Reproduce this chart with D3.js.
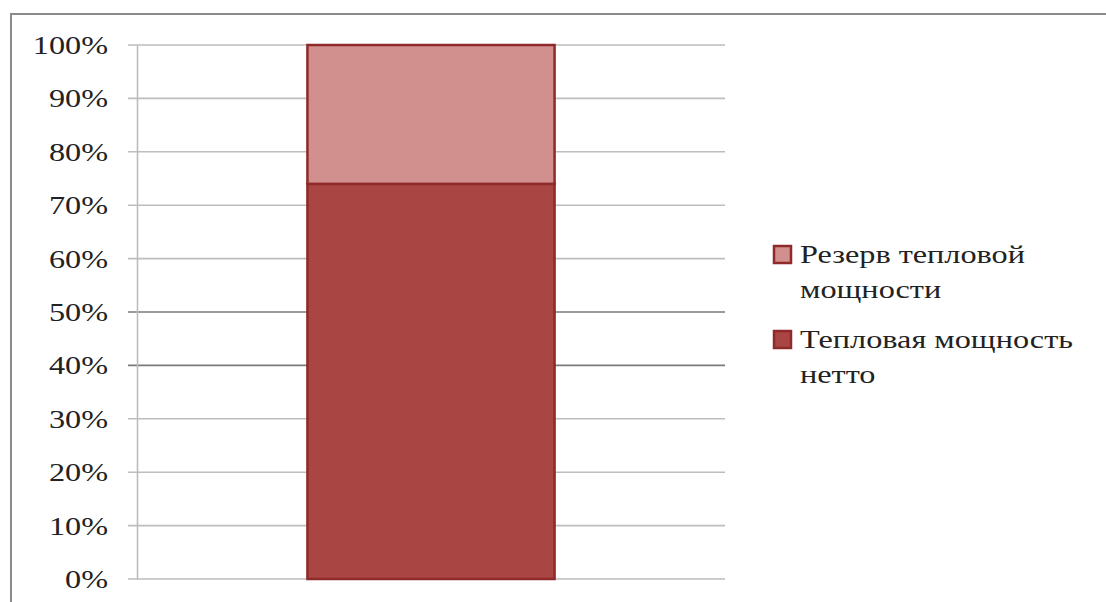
<!DOCTYPE html>
<html><head><meta charset="utf-8">
<script src="https://cdn.jsdelivr.net/npm/d3@7"></script>
<style>body{margin:0;background:#fff}svg{display:block}
svg text{font-family:"Liberation Serif","Times New Roman","DejaVu Serif",serif !important;}
</style>
</head><body>
<svg id="c" width="1106" height="602"></svg>
<script>
const categories = ["1"];
const seriesNames = ["Тепловая мощность нетто", "Резерв тепловой мощности"];
const netto = [74];
const reserve = [26];
const tickValues = [0,10,20,30,40,50,60,70,80,90,100];
const tickLabels = ["0%","10%","20%","30%","40%","50%","60%","70%","80%","90%","100%"];
const legendLines = [["Резерв тепловой","мощности"],["Тепловая мощность","нетто"]];

const svg = d3.select("#c");
const colors = {netto:"#a94543", reserve:"#d18f8e", stroke:"#8e2b2a"};
const stretch = 1.29;

// outer frame
svg.append("rect").attr("x",11).attr("y",14).attr("width",1120).attr("height",620)
  .attr("fill","none").attr("stroke","#8a8a8a").attr("stroke-width",2);

const x0 = 137, x1 = 725, yTop = 45, yBot = 579;
const x = d3.scaleBand().domain(categories).range([x0,x1]).paddingInner(0).paddingOuter(0.68);
const y = d3.scaleLinear().domain([0,100]).range([yBot,yTop]);

// gridlines
svg.append("g").selectAll("line").data(tickValues).join("line")
  .attr("x1",128).attr("x2",x1).attr("y1",d=>y(d)).attr("y2",d=>y(d))
  .attr("stroke",d=>(d===40||d===50)?"#7a7a7a":"#bdbdbd").attr("stroke-width",1.6);

// y axis
const yAxis = d3.axisLeft(y).tickValues(tickValues).tickFormat((d,i)=>tickLabels[i]).tickSize(0).tickPadding(29);
const ga = svg.append("g").attr("transform",`translate(${x0},0)`).call(yAxis);
ga.attr("font-family",null);
ga.select(".domain").attr("stroke","#bdbdbd").attr("stroke-width",1.6);
ga.selectAll("text").attr("font-size",25).attr("fill","#222")
  .attr("dy","0.34em")
  .each(function(){ const L=this.getComputedTextLength(); d3.select(this).attr("textLength",L*stretch).attr("lengthAdjust","spacingAndGlyphs"); });

// stacked bars
const stackData = categories.map((c,i)=>({cat:c, netto:netto[i], reserve:reserve[i]}));
const stack = d3.stack().keys(["netto","reserve"])(stackData);
svg.append("g").selectAll("g").data(stack).join("g")
  .attr("fill",d=>colors[d.key])
  .selectAll("rect").data(d=>d).join("rect")
  .attr("x",d=>x(d.data.cat)+1).attr("width",x.bandwidth()-2)
  .attr("y",d=>y(d[1])).attr("height",d=>y(d[0])-y(d[1]))
  .attr("stroke",colors.stroke).attr("stroke-width",2.5);

// legend
const leg = svg.append("g");
const legItems = [{key:"reserve", lines:legendLines[0], y:263},{key:"netto", lines:legendLines[1], y:348}];
legItems.forEach(it=>{
  leg.append("rect").attr("x",774).attr("y",it.y-17).attr("width",17).attr("height",17)
    .attr("fill",colors[it.key]).attr("stroke",colors.stroke).attr("stroke-width",2.5);
  it.lines.forEach((ln,j)=>{
    const t = leg.append("text").attr("x",800).attr("y",it.y+j*35).text(ln)
      .attr("font-size",25).attr("fill","#222");
    const L = t.node().getComputedTextLength();
    t.attr("textLength",L*stretch).attr("lengthAdjust","spacingAndGlyphs");
  });
});
</script>
</body></html>
